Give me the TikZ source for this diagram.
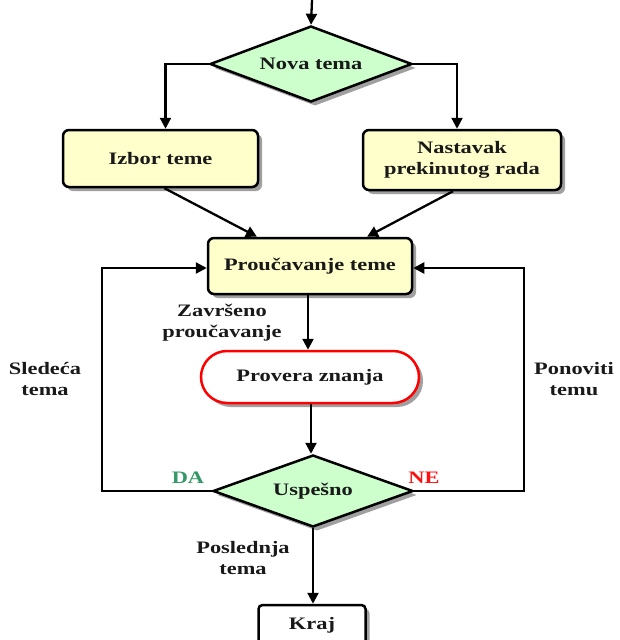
\documentclass[tikz,border=0pt]{standalone}
\usepackage{fontspec}
\setmainfont{Liberation Serif}[FakeStretch=1.28]
\usetikzlibrary{shapes.geometric,arrows.meta,shadows}

\definecolor{boxyellow}{HTML}{FFFFCC}
\definecolor{decgreen}{HTML}{CCFFCC}
\definecolor{dagreen}{HTML}{339966}
\definecolor{nered}{HTML}{FF1010}

\tikzset{
  every node/.style={font=\fontsize{17.5}{21}\selectfont\bfseries, text=black!90},
  shade/.style={drop shadow={shadow xshift=4pt, shadow yshift=-4pt, fill=black!50, opacity=0.75}},
  procbox/.style={rectangle, rounded corners=6pt, draw=black, line width=2.5pt,
    fill=boxyellow, shade, align=center, inner sep=0pt},
  decision/.style={diamond, draw=black, line width=2.5pt, fill=decgreen, shade,
    inner sep=0pt, aspect=2.7},
  terminal/.style={rectangle, rounded corners=26pt, draw=red, line width=2.5pt,
    fill=white, shade, inner sep=0pt},
  endbox/.style={rectangle, rounded corners=4pt, draw=black, line width=2.5pt,
    fill=white, shade, inner sep=0pt},
  label/.style={align=center, inner sep=0pt},
  arr/.style={line width=2.3pt, -{Triangle[length=11pt,width=11pt]}},
}

\begin{document}
\begin{tikzpicture}[x=1pt, y=-1pt]
\useasboundingbox (0,0) rectangle (620,640);

% nodes
\node[decision, minimum width=202pt, minimum height=76pt] (nova) at (311,64) {Nova tema};
\node[procbox, minimum width=195pt, minimum height=57pt] (izbor) at (160.5,158.5) {Izbor teme};
\node[procbox, minimum width=198pt, minimum height=60pt] (nast) at (462,160) {Nastavak\\prekinutog rada};
\node[procbox, minimum width=204pt, minimum height=56pt] (prouc) at (310,266) {Proučavanje teme};
\node[terminal, minimum width=218pt, minimum height=52pt] (prov) at (310,377) {Provera znanja};
\node[decision, minimum width=200pt, minimum height=72pt] (usp) at (313,491) {Uspešno};
\node[endbox, minimum width=107pt, minimum height=40pt] (kraj) at (312,625) {\raisebox{2pt}{Kraj}};

% labels
\node[label] (zav) at (222,323) {Završeno\\proučavanje};
\node[label] (sled) at (45,379) {Sledeća\\tema};
\node[label] (ponov) at (574,379) {Ponoviti\\temu};
\node[label, text=dagreen] (da) at (188,478) {DA};
\node[label, text=nered] (ne) at (424,478) {NE};
\node[label] (posl) at (243,558) {Poslednja\\tema};

% loop corners and free end
\coordinate (start) at (312,0);
\coordinate (lc) at (102,268);
\coordinate (rc) at (524,268);

% connectors
\draw[arr] (start) -- (nova.north);
\draw[arr] (nova.west) -| ([xshift=5pt]izbor.north);
\draw[arr] (nova.east) -| ([xshift=-5pt]nast.north);
\draw[arr] ([xshift=4pt]izbor.south) -- ([xshift=-53pt]prouc.north);
\draw[arr] ([xshift=-9pt]nast.south) -- ([xshift=57pt]prouc.north);
\draw[arr] ([xshift=-2pt]prouc.south) -- ([xshift=-2pt]prouc.south |- prov.north);
\draw[arr] ([xshift=1pt]prov.south) -- ([xshift=1pt]prov.south |- usp.north);
\draw[arr] (usp.west) -| (lc) -- (lc -| prouc.west);
\draw[arr] (usp.east) -| (rc) -- (rc -| prouc.east);
\draw[arr] (usp.south) -- (usp.south |- kraj.north);
\end{tikzpicture}
\end{document}
